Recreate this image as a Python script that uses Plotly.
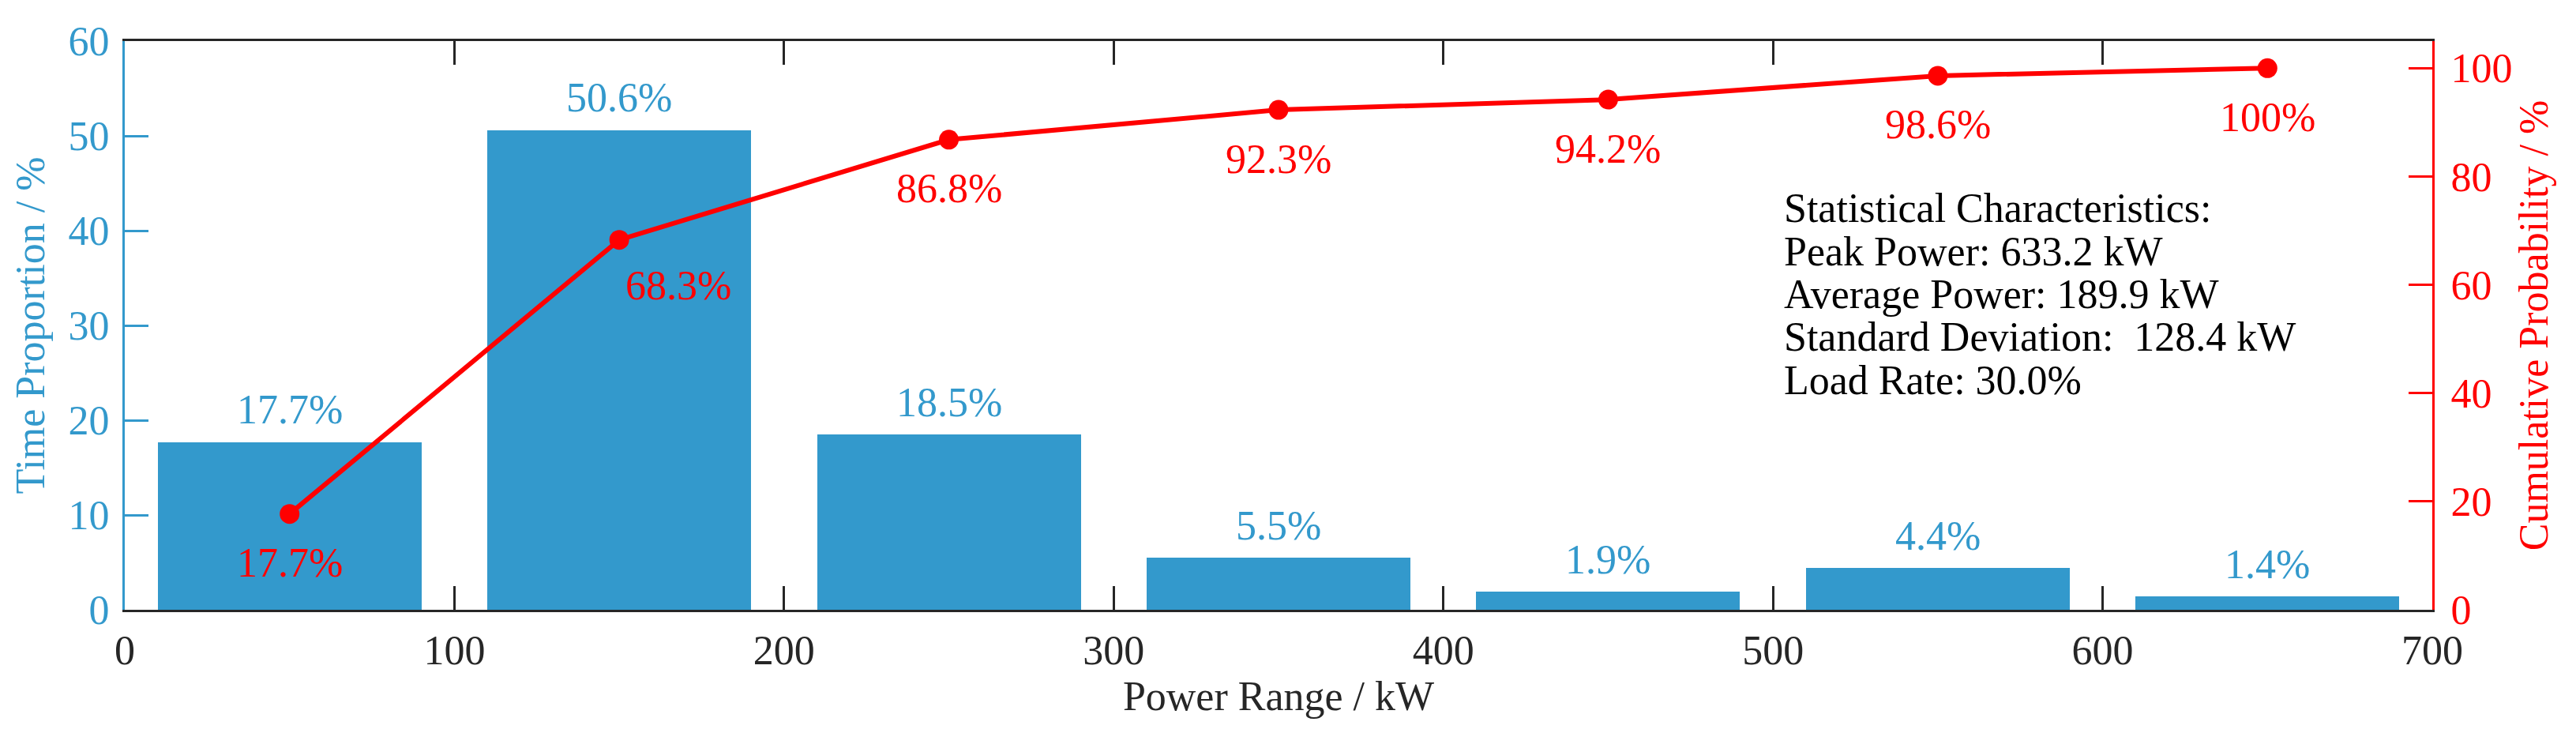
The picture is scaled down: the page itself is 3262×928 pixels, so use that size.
import plotly.graph_objects as go

# ---- data ----
bin_centers = [50, 150, 250, 350, 450, 550, 650]
time_prop = [17.7, 50.6, 18.5, 5.5, 1.9, 4.4, 1.4]
cum_prob = [17.7, 68.3, 86.8, 92.3, 94.2, 98.6, 100]
bar_labels = ["17.7%", "50.6%", "18.5%", "5.5%", "1.9%", "4.4%", "1.4%"]
cum_labels = ["17.7%", "68.3%", "86.8%", "92.3%", "94.2%", "98.6%", "100%"]
x_ticks = [0, 100, 200, 300, 400, 500, 600, 700]
y1_ticks = [0, 10, 20, 30, 40, 50, 60]
y2_ticks = [0, 20, 40, 60, 80, 100]
stats_lines = [
    "Statistical Characteristics:",
    "Peak Power: 633.2 kW",
    "Average Power: 189.9 kW",
    "Standard Deviation:  128.4 kW",
    "Load Rate: 30.0%",
]

BLUE = "#3399CC"
RED = "#FF0000"
FONT = "Liberation Serif, Times New Roman, serif"
FS = 52

fig = go.Figure()
fig.add_trace(go.Bar(x=bin_centers, y=time_prop, width=80, marker_color=BLUE,
                     marker_line_width=0, yaxis="y", showlegend=False))
fig.add_trace(go.Scatter(x=bin_centers, y=cum_prob, mode="lines+markers",
                         line=dict(color=RED, width=6),
                         marker=dict(color=RED, size=25),
                         yaxis="y2", showlegend=False))

annotations = []
for xv, yv, t in zip(bin_centers, time_prop, bar_labels):
    annotations.append(dict(x=xv, y=yv, xref="x", yref="y", text=t, showarrow=False,
                            yanchor="middle", yshift=41,
                            font=dict(family=FONT, size=FS, color=BLUE)))
cum_shift = {1: (75, -58)}
for i, (xv, yv, t) in enumerate(zip(bin_centers, cum_prob, cum_labels)):
    xs, ys = cum_shift.get(i, (0, -62))
    annotations.append(dict(x=xv, y=yv, xref="x", yref="y2", text=t, showarrow=False,
                            yanchor="middle", xshift=xs, yshift=ys,
                            font=dict(family=FONT, size=FS, color=RED)))
for k, line in enumerate(stats_lines):
    annotations.append(dict(x=0.7185, y=0.706 - k * 0.0755, xref="paper", yref="paper",
                            text=line, showarrow=False, xanchor="left", yanchor="middle",
                            font=dict(family=FONT, size=FS, color="black")))

fig.update_layout(
    width=3262, height=928,
    margin=dict(l=150, r=190, t=44, b=164),
    paper_bgcolor="white", plot_bgcolor="white",
    font=dict(family=FONT, size=FS, color="black"),
    bargap=0,
    annotations=annotations,
    xaxis=dict(range=[0, 700], tickvals=x_ticks, ticks="inside", ticklen=30, tickwidth=3,
               tickcolor="#262626", showline=True, linecolor="#262626", linewidth=3,
               mirror="ticks", showgrid=False, zeroline=False,
               tickfont=dict(family=FONT, size=FS, color="#262626"),
               ticklabelstandoff=4,
               title=dict(text="Power Range / kW", standoff=12,
                          font=dict(family=FONT, size=FS, color="#262626"))),
    yaxis=dict(range=[0, 60], tickvals=y1_ticks, ticks="inside", ticklen=30, tickwidth=3,
               tickcolor=BLUE, showline=True, linecolor=BLUE, linewidth=3,
               showgrid=False, zeroline=False,
               tickfont=dict(family=FONT, size=FS, color=BLUE),
               ticklabelstandoff=6,
               title=dict(text="Time Proportion / %", standoff=14,
                          font=dict(family=FONT, size=FS, color=BLUE))),
    yaxis2=dict(range=[0, 105], tickvals=y2_ticks, overlaying="y", side="right",
                ticks="inside", ticklen=30, tickwidth=3, tickcolor=RED,
                showline=True, linecolor=RED, linewidth=3,
                showgrid=False, zeroline=False,
                tickfont=dict(family=FONT, size=FS, color=RED),
                ticklabelstandoff=10,
                title=dict(text="Cumulative Probability / %", standoff=10,
                           font=dict(family=FONT, size=FS, color=RED))),
)

fig.write_html("out.html")
